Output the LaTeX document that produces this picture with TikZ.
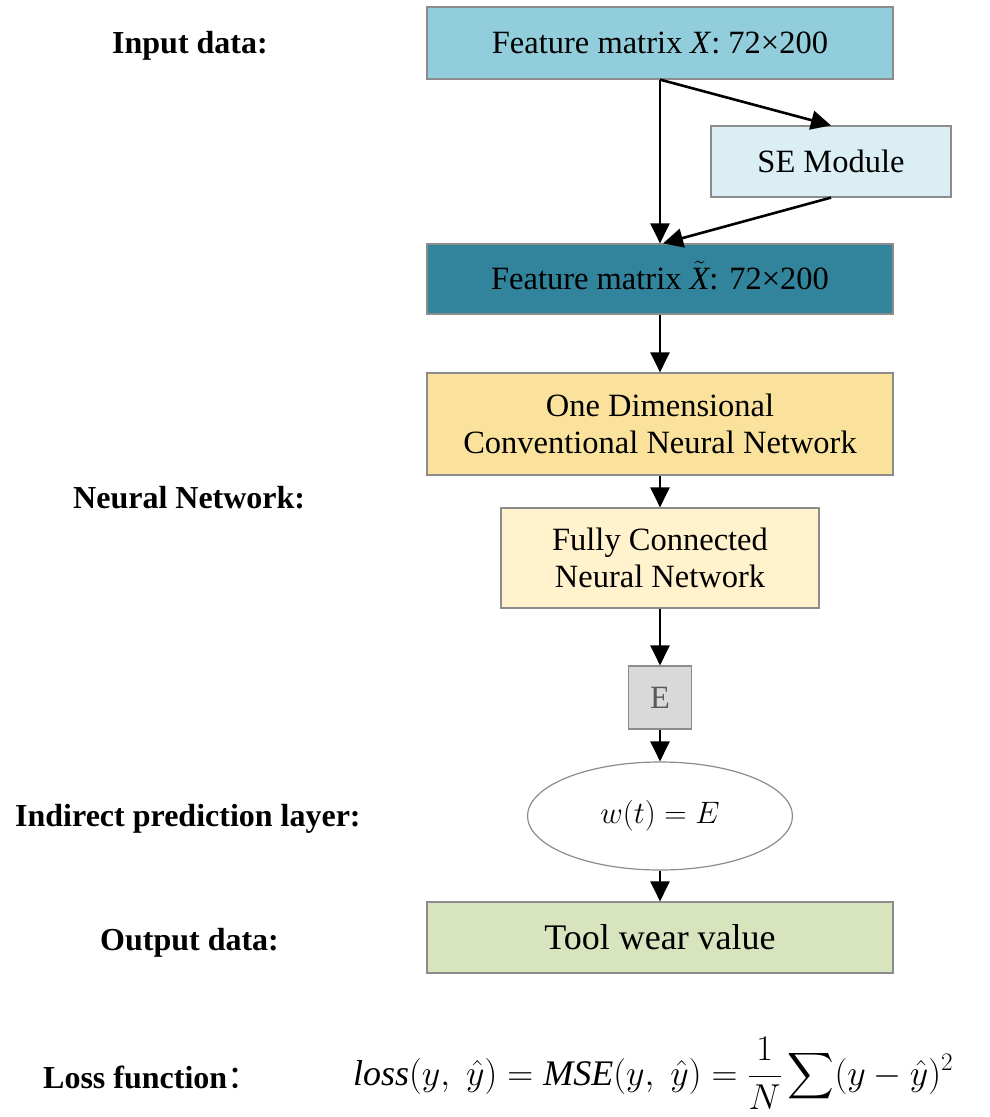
\RequirePackage{fix-cm}
\documentclass[tikz,border=0pt]{standalone}
\usepackage{amsmath}
\usepackage{exscale}
\usepackage{graphicx}
\usepackage{fontspec}
\setmainfont{Liberation Serif}
\newfontfamily\cjk{Noto Sans CJK SC}
\usetikzlibrary{arrows.meta,shapes.geometric}

\definecolor{inputblue}{HTML}{92CDDC}
\definecolor{seblue}{HTML}{DAEEF3}
\definecolor{tealdark}{HTML}{31849B}
\definecolor{cnnyellow}{HTML}{FBE29C}
\definecolor{fcyellow}{HTML}{FFF2CC}
\definecolor{egray}{HTML}{D9D9D9}
\definecolor{outgreen}{HTML}{D7E4BD}
\definecolor{edgegray}{HTML}{8C8C8C}

% a large summation sign for the loss formula
\newcommand{\bigsum}{\mathop{\vcenter{\hbox{\scalebox{1.3}{$\displaystyle\sum$}}}}\nolimits}

\tikzset{
  box/.style={draw=edgegray, line width=1.2pt, rectangle, inner sep=0pt,
    align=center, font=\fontsize{32.5}{37}\selectfont},
  sidelabel/.style={anchor=base west, inner sep=0pt,
    font=\fontsize{32}{38}\selectfont\bfseries},
  flow/.style={line width=2.6pt, -{Triangle[length=20pt,width=19pt]}},
}

\begin{document}
\begin{tikzpicture}[x=1pt,y=-1pt]
  \useasboundingbox (0,0) rectangle (989,1117);

  % flow boxes
  \node[box, fill=inputblue, minimum width=466pt, minimum height=72pt] (inp) at (660,43)
    {Feature matrix \textit{X}: 72\texttimes200};
  \node[box, fill=seblue, minimum width=240pt, minimum height=71pt] (se) at (831,161.5)
    {SE Module};
  \node[box, fill=tealdark, minimum width=466pt, minimum height=70pt] (feat) at (660,279)
    {Feature matrix $\smash{\tilde{\textit{X}}}$: 72\texttimes200};
  \node[box, fill=cnnyellow, minimum width=466pt, minimum height=102pt] (cnn) at (660,424)
    {One Dimensional\\Conventional Neural Network};
  \node[box, fill=fcyellow, minimum width=318pt, minimum height=100pt] (fc) at (660,558)
    {Fully Connected\\Neural Network};
  \node[box, fill=egray, text=black!65, minimum width=63pt, minimum height=63pt] (e) at (660,697.5)
    {E};
  \node[draw=edgegray, line width=1.2pt, ellipse, inner sep=0pt, fill=white,
    minimum width=265pt, minimum height=108pt,
    font=\fontsize{31}{36}\selectfont] (pred) at (660,816)
    {$w(t)=E$};
  \node[box, fill=outgreen, minimum width=466pt, minimum height=71pt,
    font=\fontsize{36}{42}\selectfont] (out) at (660,937.5)
    {Tool wear value};

  % connectors
  \draw[flow] (inp.south) -- (feat.north);
  \draw[flow] (inp.south) -- (se.north);
  \draw[flow] (se.south) -- ([xshift=3pt]feat.north);
  \draw[flow] (feat.south) -- (cnn.north);
  \draw[flow] (cnn.south) -- (fc.north);
  \draw[flow] (fc.south) -- (e.north);
  \draw[flow] (e.south) -- (pred.north);
  \draw[flow] (pred.south) -- (out.north);

  % stage labels
  \node[sidelabel] (lin) at (112,53) {Input data:};
  \node[sidelabel] (lnn) at (73,508) {Neural Network:};
  \node[sidelabel] (lind) at (15,826) {Indirect prediction layer:};
  \node[sidelabel] (lout) at (100,950) {Output data:};
  \node[sidelabel] (lloss) at (43,1088) {Loss function{\mdseries\cjk ：}};

  % loss formula
  \node[anchor=base west, inner sep=0pt, font=\fontsize{36}{42}\selectfont] (loss) at (353,1085)
    {$\displaystyle \mathit{loss}(y,\;\hat{y}) = \mathit{MSE}(y,\;\hat{y}) = \frac{1}{N}\bigsum(y-\hat{y})^2$};
\end{tikzpicture}
\end{document}
